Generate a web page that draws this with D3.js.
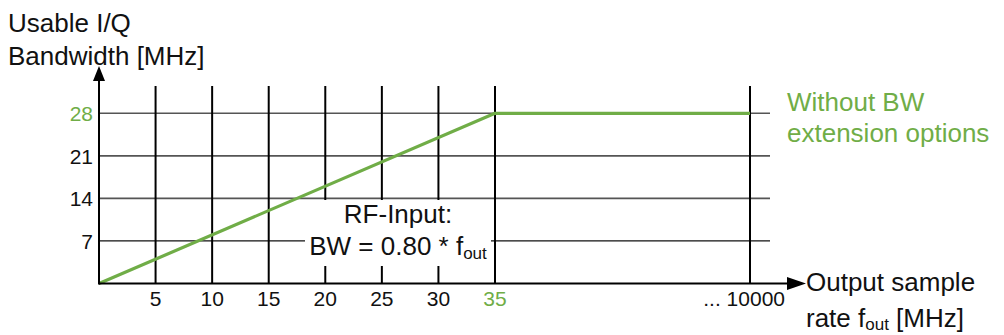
<!DOCTYPE html>
<html>
<head>
<meta charset="utf-8">
<script src="https://cdn.jsdelivr.net/npm/d3@7"></script>
<style>
  html, body { margin: 0; padding: 0; background: #fff; }
  svg { display: block; font-family: "Liberation Sans", Arial, sans-serif; }
</style>
</head>
<body>
<svg id="chart" width="1004" height="335"></svg>
<script>
// ---- data ----
const xTickValues = [5, 10, 15, 20, 25, 30, 35, 10000];
const xTickLabels = ["5", "10", "15", "20", "25", "30", "35", "... 10000"];
const yTickValues = [7, 14, 21, 28];
const yTickLabels = ["7", "14", "21", "28"];
const sampleRate = [0, 35, 10000];      // f_out [MHz]
const usableBW   = [0, 28, 28];         // usable I/Q bandwidth [MHz]
const highlightX = [35];
const highlightY = [28];

// ---- layout ----
const GREEN = "#70ad47";
const svg = d3.select("#chart");
const x = d3.scaleLinear().domain([0, 35, 10000]).range([99, 495, 750]);
const y = d3.scaleLinear().domain([0, 28]).range([283.5, 113.3]);
const gridRight = 770;
const vTop = 86;

// horizontal gridlines
svg.append("g").selectAll("line").data(yTickValues).join("line")
  .attr("x1", x(0)).attr("x2", gridRight)
  .attr("y1", d => y(d)).attr("y2", d => y(d))
  .attr("stroke", d => d === 7 ? "#111" : "#555")
  .attr("stroke-width", d => d === 7 ? 1.3 : 1.6);

// vertical gridlines
svg.append("g").selectAll("line").data(xTickValues).join("line")
  .attr("x1", d => x(d)).attr("x2", d => x(d))
  .attr("y1", vTop).attr("y2", y(0))
  .attr("stroke", "#000").attr("stroke-width", 2);

// annotation box (white background)
svg.append("rect").attr("x", 305).attr("y", 200).attr("width", 186).attr("height", 66)
  .attr("fill", "#fff");

// annotation text
const ann = svg.append("g").attr("font-size", 26).attr("fill", "#111").attr("text-anchor", "middle");
ann.append("text").attr("x", 398).attr("y", 223).text("RF-Input:");
const t2 = ann.append("text").attr("x", 398).attr("y", 255);
t2.append("tspan").text("BW = 0.80 * f");
t2.append("tspan").attr("font-size", 17).attr("dy", 4).text("out");

// green bandwidth line
const line = d3.line().x((d, i) => x(sampleRate[i])).y(d => y(d));
svg.append("path").datum(usableBW)
  .attr("d", line)
  .attr("fill", "none").attr("stroke", GREEN).attr("stroke-width", 3.2)
  .attr("stroke-linejoin", "round");

// axes
svg.append("line").attr("x1", x(0)).attr("x2", 790).attr("y1", y(0)).attr("y2", y(0))
  .attr("stroke", "#000").attr("stroke-width", 2);
svg.append("path").attr("d", `M806,${y(0)} L787,${y(0) - 6.5} L787,${y(0) + 6.5} Z`).attr("fill", "#000");
svg.append("line").attr("x1", x(0)).attr("x2", x(0)).attr("y1", y(0) + 1).attr("y2", 78)
  .attr("stroke", "#000").attr("stroke-width", 2);
svg.append("path").attr("d", `M${x(0)},66 L${x(0) - 6},81 L${x(0) + 6},81 Z`).attr("fill", "#000");

// x tick labels
svg.append("g").attr("font-size", 21).selectAll("text").data(xTickValues).join("text")
  .attr("x", d => d === 10000 ? x(d) + 35 : x(d))
  .attr("y", 306)
  .attr("text-anchor", d => d === 10000 ? "end" : "middle")
  .attr("fill", d => highlightX.includes(d) ? GREEN : "#111")
  .text((d, i) => xTickLabels[i]);

// y tick labels
svg.append("g").attr("font-size", 21).selectAll("text").data(yTickValues).join("text")
  .attr("x", 93)
  .attr("y", d => y(d))
  .attr("dy", "0.37em")
  .attr("text-anchor", "end")
  .attr("fill", d => highlightY.includes(d) ? GREEN : "#111")
  .text((d, i) => yTickLabels[i]);

// y axis title
const yt = svg.append("g").attr("font-size", 26).attr("fill", "#111");
yt.append("text").attr("x", 8).attr("y", 32).text("Usable I/Q");
yt.append("text").attr("x", 8).attr("y", 65).text("Bandwidth [MHz]");

// x axis title
const xt = svg.append("g").attr("font-size", 26).attr("fill", "#111");
xt.append("text").attr("x", 806).attr("y", 291).text("Output sample");
const xt2 = xt.append("text").attr("x", 806).attr("y", 327);
xt2.append("tspan").text("rate f");
xt2.append("tspan").attr("font-size", 17).attr("dy", 3).text("out");
xt2.append("tspan").attr("dy", -3).text(" [MHz]");

// legend label
const lg = svg.append("g").attr("font-size", 26).attr("fill", GREEN);
lg.append("text").attr("x", 787).attr("y", 111).text("Without BW");
lg.append("text").attr("x", 787).attr("y", 142).text("extension options");
</script>
</body>
</html>
